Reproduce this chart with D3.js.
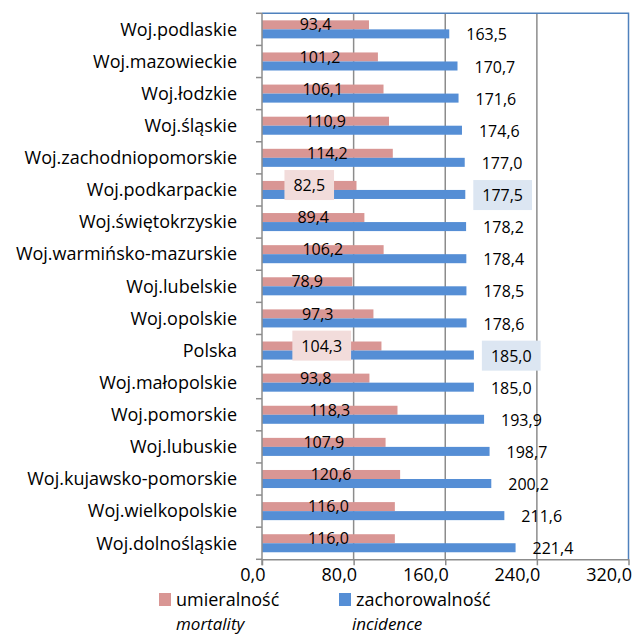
<!DOCTYPE html>
<html>
<head>
<meta charset="utf-8">
<script src="https://cdn.jsdelivr.net/npm/d3@7"></script>
<style>
  body { margin: 0; background: #fff; }
  text { font-family: "Open Sans", sans-serif; fill: #000; }
</style>
</head>
<body>
<svg width="633" height="635"></svg>
<script>
// data, top to bottom as in the chart
var regions = ["Woj.podlaskie", "Woj.mazowieckie", "Woj.łodzkie", "Woj.śląskie",
  "Woj.zachodniopomorskie", "Woj.podkarpackie", "Woj.świętokrzyskie",
  "Woj.warmińsko-mazurskie", "Woj.lubelskie", "Woj.opolskie", "Polska",
  "Woj.małopolskie", "Woj.pomorskie", "Woj.lubuskie", "Woj.kujawsko-pomorskie",
  "Woj.wielkopolskie", "Woj.dolnośląskie"];
var mortality = [93.4, 101.2, 106.1, 110.9, 114.2, 82.5, 89.4, 106.2, 78.9, 97.3,
  104.3, 93.8, 118.3, 107.9, 120.6, 116.0, 116.0];
var incidence = [163.5, 170.7, 171.6, 174.6, 177.0, 177.5, 178.2, 178.4, 178.5, 178.6,
  185.0, 185.0, 193.9, 198.7, 200.2, 211.6, 221.4];
var xTicks = [0, 80, 160, 240, 320];
var highlighted = ["Woj.podkarpackie", "Polska"];
var seriesNames = ["umieralność", "zachorowalność"];
var seriesNamesEn = ["mortality", "incidence"];

var svg = d3.select("svg"),
    plotL = 262, plotR = 628.5, plotT = 13.3, plotB = 559.3;

var pink = "#d99694", blue = "#558ed5";

var x = d3.scaleLinear().domain([0, 320]).range([plotL, plotR]);
var y = d3.scaleBand().domain(regions).range([plotT, plotB]);
var sub = d3.scaleBand().domain(["m", "i"]).range([0, y.bandwidth()]).paddingOuter(0.78);

var fmt = function(v) { return d3.format(".1f")(v).replace(".", ","); };

var rows = regions.map(function(r, i) {
  return {name: r, m: mortality[i], inc: incidence[i]};
});

// grid lines
svg.append("g").selectAll("line")
  .data(xTicks.slice(1, -1))
  .enter().append("line")
    .attr("x1", function(d) { return x(d); })
    .attr("x2", function(d) { return x(d); })
    .attr("y1", plotT).attr("y2", plotB)
    .attr("stroke", "#8c8c8c")
    .attr("stroke-width", 1.5);

// top + right border
svg.append("path")
  .attr("d", "M" + plotL + "," + plotT + "H" + plotR + "V" + plotB)
  .attr("fill", "none")
  .attr("stroke", "#4f81bd")
  .attr("stroke-width", 1.5);

// bars
var g = svg.append("g");
g.selectAll(".m").data(rows).enter().append("rect")
  .attr("x", x(0))
  .attr("y", function(d) { return y(d.name) + sub("m"); })
  .attr("width", function(d) { return x(d.m) - x(0); })
  .attr("height", sub.bandwidth())
  .attr("fill", pink);
g.selectAll(".i").data(rows).enter().append("rect")
  .attr("x", x(0))
  .attr("y", function(d) { return y(d.name) + sub("i"); })
  .attr("width", function(d) { return x(d.inc) - x(0); })
  .attr("height", sub.bandwidth())
  .attr("fill", blue);

// x axis
var xAxis = svg.append("g")
  .attr("transform", "translate(0," + plotB + ")")
  .call(d3.axisBottom(x).tickValues(xTicks).tickFormat(fmt).tickSize(6).tickPadding(3).tickSizeOuter(0));
xAxis.select(".domain").attr("stroke", "#8c8c8c").attr("stroke-width", 1.5);
xAxis.selectAll(".tick line").attr("stroke", "#8c8c8c").attr("stroke-width", 1.5);
xAxis.selectAll(".tick text")
  .attr("font-size", 18)
  .attr("font-family", "Open Sans, sans-serif")
  .attr("text-anchor", "end")
  .attr("x", 3);

// y axis line and boundary ticks
svg.append("line")
  .attr("x1", plotL).attr("x2", plotL)
  .attr("y1", plotT).attr("y2", plotB + 6)
  .attr("stroke", "#8c8c8c").attr("stroke-width", 1.5);
svg.append("g").selectAll("line")
  .data(regions.map(function(r) { return y(r); }).concat([plotB]))
  .enter().append("line")
    .attr("x1", plotL - 6).attr("x2", plotL)
    .attr("y1", function(d) { return d; })
    .attr("y2", function(d) { return d; })
    .attr("stroke", "#8c8c8c").attr("stroke-width", 1.5);

// category labels
svg.append("g").selectAll("text")
  .data(regions)
  .enter().append("text")
    .attr("x", 237)
    .attr("y", function(d) { return y(d) + y.bandwidth() / 2; })
    .attr("dy", "0.35em")
    .attr("text-anchor", "end")
    .attr("font-size", 18)
    .text(function(d) { return d; });

// value labels
var labels = svg.append("g");
rows.forEach(function(d) {
  var hl = highlighted.indexOf(d.name) >= 0;
  var mt = labels.append("text")
    .attr("x", x(d.m / 2))
    .attr("y", y(d.name) + sub("m") + sub.bandwidth() / 2)
    .attr("dy", "0.35em")
    .attr("text-anchor", "middle")
    .attr("font-size", 16)
    .text(fmt(d.m));
  var it = labels.append("text")
    .attr("x", x(d.inc) + 17)
    .attr("y", y(d.name) + sub("i") + sub.bandwidth() / 2 + 1)
    .attr("dy", "0.35em")
    .attr("font-size", 16)
    .text(fmt(d.inc));
  if (hl) {
    [[mt, "#f2dcdb"], [it, "#dce6f2"]].forEach(function(p) {
      var b = p[0].node().getBBox();
      labels.insert("rect", function() { return p[0].node(); })
        .attr("x", b.x - 9).attr("y", b.y - 4)
        .attr("width", b.width + 18).attr("height", b.height + 8)
        .attr("fill", p[1]);
    });
  }
});

// legend
var legend = svg.append("g");
var legX = [159, 339], textX = [176, 356];
[pink, blue].forEach(function(c, i) {
  legend.append("rect")
    .attr("x", legX[i]).attr("y", 593)
    .attr("width", 12).attr("height", 13)
    .attr("fill", c);
  legend.append("text")
    .attr("x", textX[i]).attr("y", 606)
    .attr("font-size", 18)
    .text(seriesNames[i]);
  legend.append("text")
    .attr("x", textX[i] - (i ? 4 : 0)).attr("y", 630)
    .attr("font-size", 17)
    .attr("font-style", "italic")
    .text(seriesNamesEn[i]);
});
</script>
</body>
</html>
